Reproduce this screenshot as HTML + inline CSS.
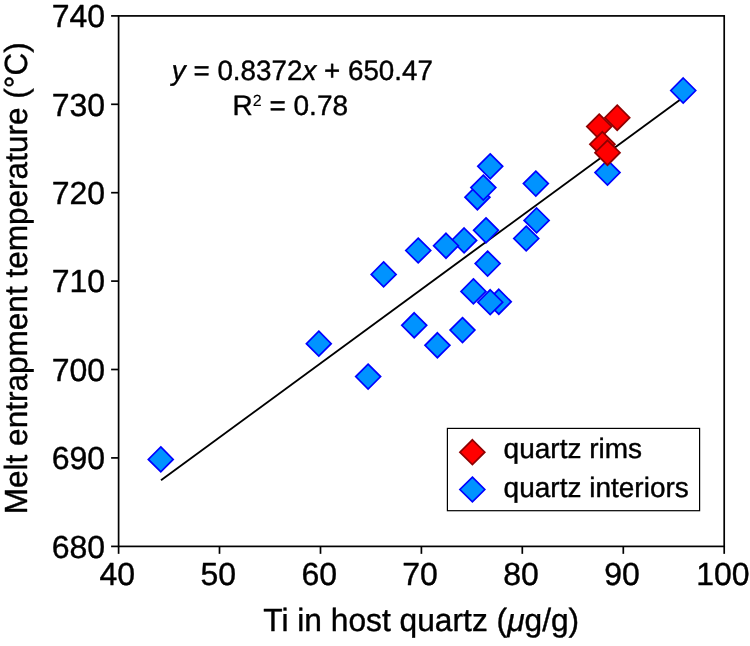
<!DOCTYPE html>
<html><head><meta charset="utf-8"><title>chart</title>
<style>
html,body{margin:0;padding:0;background:#fff;}
svg{display:block;will-change:transform;text-rendering:geometricPrecision;font-family:"Liberation Sans",sans-serif;fill:#000;}
.t32{font-size:32px}.t28{font-size:28px}
text{stroke:#000;stroke-width:0.4px;stroke-linejoin:round}
</style></head><body>
<svg width="750" height="646" viewBox="0 0 750 646">
<rect width="750" height="646" fill="#fff"/>
<rect x="118.6" y="15.9" width="605.6" height="530.5" fill="none" stroke="#000" stroke-width="1.7"/>
<line x1="111.1" y1="546.4" x2="118.6" y2="546.4" stroke="#000" stroke-width="1.7"/>
<text class="t32" x="105.1" y="557.6" text-anchor="end">680</text>
<line x1="111.1" y1="457.9" x2="118.6" y2="457.9" stroke="#000" stroke-width="1.7"/>
<text class="t32" x="105.1" y="469.2" text-anchor="end">690</text>
<line x1="111.1" y1="369.5" x2="118.6" y2="369.5" stroke="#000" stroke-width="1.7"/>
<text class="t32" x="105.1" y="380.8" text-anchor="end">700</text>
<line x1="111.1" y1="281.1" x2="118.6" y2="281.1" stroke="#000" stroke-width="1.7"/>
<text class="t32" x="105.1" y="292.4" text-anchor="end">710</text>
<line x1="111.1" y1="192.7" x2="118.6" y2="192.7" stroke="#000" stroke-width="1.7"/>
<text class="t32" x="105.1" y="204.0" text-anchor="end">720</text>
<line x1="111.1" y1="104.3" x2="118.6" y2="104.3" stroke="#000" stroke-width="1.7"/>
<text class="t32" x="105.1" y="115.6" text-anchor="end">730</text>
<line x1="111.1" y1="15.9" x2="118.6" y2="15.9" stroke="#000" stroke-width="1.7"/>
<text class="t32" x="105.1" y="27.2" text-anchor="end">740</text>
<line x1="118.6" y1="546.35" x2="118.6" y2="553.85" stroke="#000" stroke-width="1.7"/>
<text class="t32" x="117.3" y="584.7" text-anchor="middle">40</text>
<line x1="219.5" y1="546.35" x2="219.5" y2="553.85" stroke="#000" stroke-width="1.7"/>
<text class="t32" x="218.2" y="584.7" text-anchor="middle">50</text>
<line x1="320.5" y1="546.35" x2="320.5" y2="553.85" stroke="#000" stroke-width="1.7"/>
<text class="t32" x="319.2" y="584.7" text-anchor="middle">60</text>
<line x1="421.4" y1="546.35" x2="421.4" y2="553.85" stroke="#000" stroke-width="1.7"/>
<text class="t32" x="420.1" y="584.7" text-anchor="middle">70</text>
<line x1="522.3" y1="546.35" x2="522.3" y2="553.85" stroke="#000" stroke-width="1.7"/>
<text class="t32" x="521.0" y="584.7" text-anchor="middle">80</text>
<line x1="623.3" y1="546.35" x2="623.3" y2="553.85" stroke="#000" stroke-width="1.7"/>
<text class="t32" x="622.0" y="584.7" text-anchor="middle">90</text>
<line x1="724.2" y1="546.35" x2="724.2" y2="553.85" stroke="#000" stroke-width="1.7"/>
<text class="t32" x="722.9" y="584.7" text-anchor="middle">100</text>
<line x1="161.0" y1="480.3" x2="683.8" y2="96.9" stroke="#000" stroke-width="1.9"/>
<path d="M160.8 446.9L173.2 459.4L160.8 471.8L148.3 459.4Z" fill="#0093ff" stroke="#0000ff" stroke-width="1.7" stroke-linejoin="miter"/>
<path d="M318.8 331.2L331.2 343.7L318.8 356.1L306.4 343.7Z" fill="#0093ff" stroke="#0000ff" stroke-width="1.7" stroke-linejoin="miter"/>
<path d="M368.1 364.1L380.6 376.6L368.1 389.0L355.7 376.6Z" fill="#0093ff" stroke="#0000ff" stroke-width="1.7" stroke-linejoin="miter"/>
<path d="M383.6 261.9L396.1 274.4L383.6 286.8L371.2 274.4Z" fill="#0093ff" stroke="#0000ff" stroke-width="1.7" stroke-linejoin="miter"/>
<path d="M414.2 312.8L426.7 325.3L414.2 337.7L401.8 325.3Z" fill="#0093ff" stroke="#0000ff" stroke-width="1.7" stroke-linejoin="miter"/>
<path d="M418.2 238.1L430.7 250.5L418.2 262.9L405.8 250.5Z" fill="#0093ff" stroke="#0000ff" stroke-width="1.7" stroke-linejoin="miter"/>
<path d="M437.4 332.8L449.9 345.3L437.4 357.7L425.0 345.3Z" fill="#0093ff" stroke="#0000ff" stroke-width="1.7" stroke-linejoin="miter"/>
<path d="M464.1 228.0L476.6 240.4L464.1 252.8L451.7 240.4Z" fill="#0093ff" stroke="#0000ff" stroke-width="1.7" stroke-linejoin="miter"/>
<path d="M446.0 233.3L458.4 245.7L446.0 258.2L433.6 245.7Z" fill="#0093ff" stroke="#0000ff" stroke-width="1.7" stroke-linejoin="miter"/>
<path d="M462.5 317.6L474.9 330.1L462.5 342.5L450.1 330.1Z" fill="#0093ff" stroke="#0000ff" stroke-width="1.7" stroke-linejoin="miter"/>
<path d="M473.4 278.9L485.9 291.4L473.4 303.8L461.0 291.4Z" fill="#0093ff" stroke="#0000ff" stroke-width="1.7" stroke-linejoin="miter"/>
<path d="M477.4 184.8L489.9 197.2L477.4 209.7L465.0 197.2Z" fill="#0093ff" stroke="#0000ff" stroke-width="1.7" stroke-linejoin="miter"/>
<path d="M483.3 175.2L495.8 187.6L483.3 200.0L470.9 187.6Z" fill="#0093ff" stroke="#0000ff" stroke-width="1.7" stroke-linejoin="miter"/>
<path d="M486.0 217.9L498.4 230.3L486.0 242.8L473.6 230.3Z" fill="#0093ff" stroke="#0000ff" stroke-width="1.7" stroke-linejoin="miter"/>
<path d="M487.6 251.1L500.1 263.6L487.6 276.0L475.2 263.6Z" fill="#0093ff" stroke="#0000ff" stroke-width="1.7" stroke-linejoin="miter"/>
<path d="M490.2 153.9L502.7 166.3L490.2 178.8L477.8 166.3Z" fill="#0093ff" stroke="#0000ff" stroke-width="1.7" stroke-linejoin="miter"/>
<path d="M498.8 289.3L511.2 301.8L498.8 314.2L486.4 301.8Z" fill="#0093ff" stroke="#0000ff" stroke-width="1.7" stroke-linejoin="miter"/>
<path d="M490.2 289.8L502.7 302.2L490.2 314.6L477.8 302.2Z" fill="#0093ff" stroke="#0000ff" stroke-width="1.7" stroke-linejoin="miter"/>
<path d="M536.6 208.0L549.1 220.4L536.6 232.8L524.1 220.4Z" fill="#0093ff" stroke="#0000ff" stroke-width="1.7" stroke-linejoin="miter"/>
<path d="M526.2 226.1L538.7 238.5L526.2 250.9L513.8 238.5Z" fill="#0093ff" stroke="#0000ff" stroke-width="1.7" stroke-linejoin="miter"/>
<path d="M535.8 171.2L548.3 183.6L535.8 196.0L523.4 183.6Z" fill="#0093ff" stroke="#0000ff" stroke-width="1.7" stroke-linejoin="miter"/>
<path d="M607.5 160.2L620.0 172.6L607.5 185.0L595.0 172.6Z" fill="#0093ff" stroke="#0000ff" stroke-width="1.7" stroke-linejoin="miter"/>
<path d="M683.2 78.0L695.7 90.5L683.2 103.0L670.8 90.5Z" fill="#0093ff" stroke="#0000ff" stroke-width="1.7" stroke-linejoin="miter"/>
<path d="M617.2 105.2L629.7 117.7L617.2 130.2L604.8 117.7Z" fill="#ff0000" stroke="#8e0000" stroke-width="1.7" stroke-linejoin="miter"/>
<path d="M599.2 114.2L611.7 126.6L599.2 139.1L586.8 126.6Z" fill="#ff0000" stroke="#8e0000" stroke-width="1.7" stroke-linejoin="miter"/>
<path d="M602.4 131.8L614.9 144.2L602.4 156.7L589.9 144.2Z" fill="#ff0000" stroke="#8e0000" stroke-width="1.7" stroke-linejoin="miter"/>
<path d="M607.5 140.3L620.0 152.7L607.5 165.2L595.0 152.7Z" fill="#ff0000" stroke="#8e0000" stroke-width="1.7" stroke-linejoin="miter"/>
<text class="t28" x="302.4" y="80" text-anchor="middle" textLength="261.1" lengthAdjust="spacingAndGlyphs"><tspan font-style="italic">y</tspan> = 0.8372<tspan font-style="italic">x</tspan> + 650.47</text>
<text class="t28" x="232.5" y="114.8">R<tspan font-size="16" dy="-9.1" stroke-width="0.1">2</tspan><tspan dy="9.1"> = 0.78</tspan></text>
<rect x="447.4" y="428.4" width="252.2" height="82.3" fill="#fff" stroke="#000" stroke-width="1.2"/>
<path d="M472.4 439.8L484.8 452.2L472.4 464.6L459.9 452.2Z" fill="#ff0000" stroke="#8e0000" stroke-width="1.7" stroke-linejoin="miter"/>
<path d="M472.4 477.1L484.8 489.5L472.4 501.9L459.9 489.5Z" fill="#0093ff" stroke="#0000ff" stroke-width="1.7" stroke-linejoin="miter"/>
<text class="t28" x="503.6" y="457.9">quartz rims</text>
<text class="t28" x="503.6" y="496.7">quartz interiors</text>
<text class="t32" x="421.2" y="631.2" text-anchor="middle" textLength="316" lengthAdjust="spacingAndGlyphs">Ti in host quartz (<tspan font-style="italic">μ</tspan>g/g)</text>
<text class="t32" transform="translate(26.5 278.3) rotate(-90)" text-anchor="middle" textLength="471.9" lengthAdjust="spacingAndGlyphs">Melt entrapment temperature (°C)</text>
</svg></body></html>
